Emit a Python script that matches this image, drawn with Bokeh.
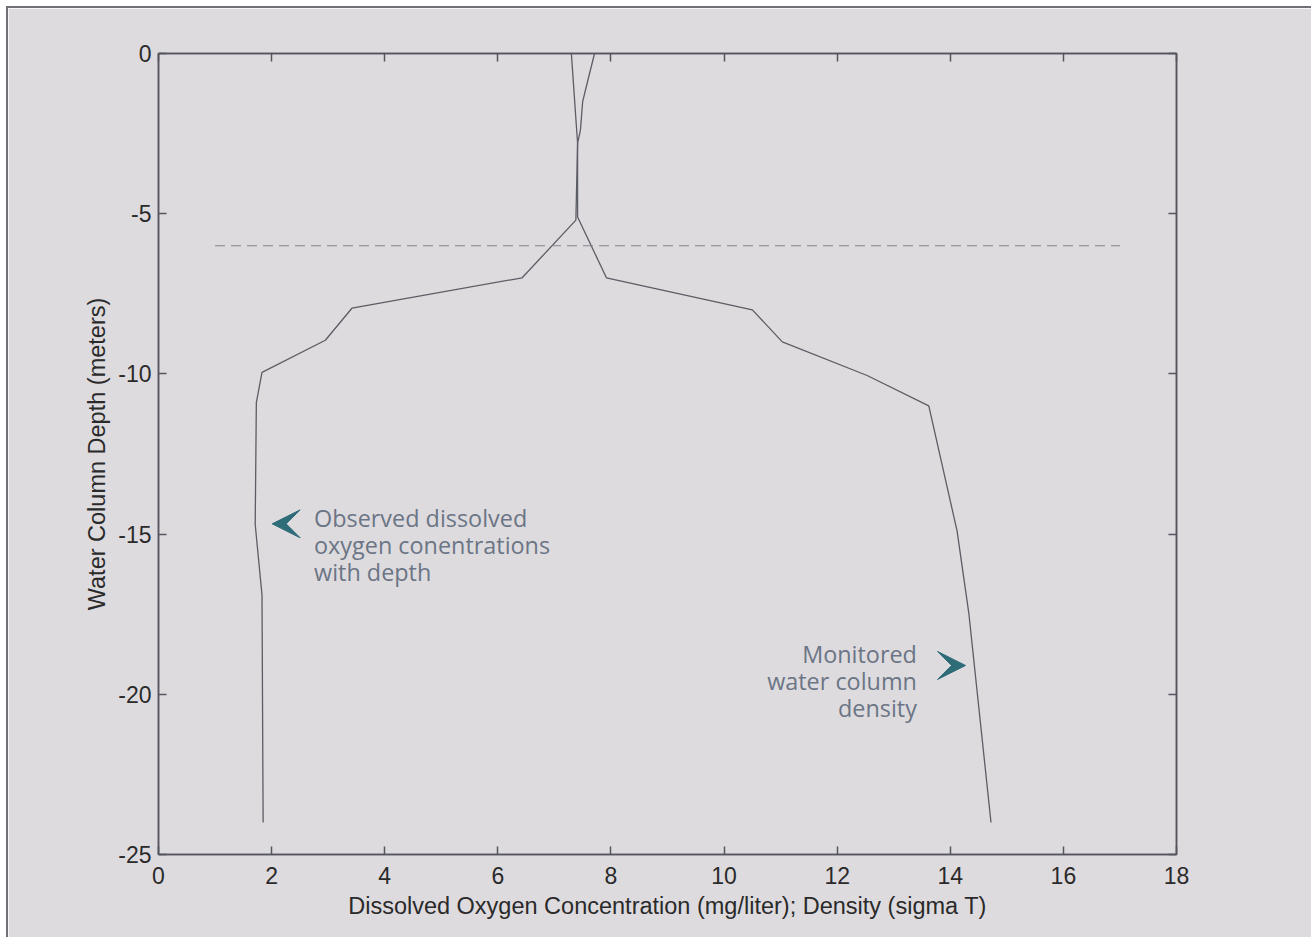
from bokeh.plotting import figure
from bokeh.models import LinearAxis, FixedTicker, Arrow, VeeHead, Range1d, CustomJSTickFormatter
from bokeh.core.properties import value
from bokeh.embed import file_html
from bokeh.resources import INLINE

# ---- data ----
do_conc = [7.71, 7.59, 7.50, 7.46, 7.41, 7.38, 6.43, 3.42, 2.95, 1.83, 1.73, 1.71, 1.83, 1.85]
do_depth = [0, -0.85, -1.5, -2.4, -2.8, -5.2, -7.0, -7.95, -8.95, -9.95, -10.9, -14.7, -16.9, -24.0]

dens_val = [7.30, 7.41, 7.41, 7.92, 10.50, 11.03, 12.53, 13.62, 14.12, 14.33, 14.72]
dens_depth = [0, -2.8, -5.1, -7.0, -8.0, -9.0, -10.05, -11.0, -14.9, -17.5, -24.0]

ref_x = [1.0, 17.0]
ref_depth = [-6.0, -6.0]

x_ticks = [0, 2, 4, 6, 8, 10, 12, 14, 16, 18]
y_ticks = [-25, -20, -15, -10, -5, 0]

left_note = ["Observed dissolved", "oxygen conentrations", "with depth"]
left_note_x = [2.75, 2.75, 2.75]
left_note_y = [-14.51, -15.34, -16.17]

right_note = ["Monitored", "water column", "density"]
right_note_x = [13.41, 13.41, 13.41]
right_note_y = [-18.74, -19.58, -20.42]

arrow_tip_x = [2.01, 14.27]
arrow_tip_y = [-14.68, -19.10]
arrow_dir = [-1, 1]

BG = "#dedbdf"
AX = "#55555d"
LINE = "#5c5c64"
NOTE = "#6b7585"
TEAL = "#2e6c78"
FONT = "Liberation Sans"

p = figure(width=1305, height=931, output_backend="svg", toolbar_location=None,
           x_range=Range1d(0, 18), y_range=Range1d(-25, 0),
           min_border_left=150, min_border_right=137, min_border_top=45, min_border_bottom=85)
p.background_fill_color = BG
p.border_fill_color = BG
p.outline_line_color = AX
p.outline_line_width = 1.5
p.xgrid.visible = False
p.ygrid.visible = False
p.styles = {"border-left": "2px solid #707076", "border-top": "2px solid #707076",
            "margin-left": "6px", "margin-top": "6px"}

def style_axis(ax, ticks, show_labels=True):
    ax.ticker = FixedTicker(ticks=ticks)
    ax.major_tick_in = 8
    ax.major_tick_out = 0
    ax.minor_tick_line_color = None
    ax.major_tick_line_color = AX
    ax.major_tick_line_width = 1.5
    ax.axis_line_color = AX
    ax.axis_line_width = 1.5
    ax.major_label_text_font = FONT
    ax.major_label_text_color = "#2a2a2a"
    ax.major_label_text_font_size = "23px"
    if show_labels:
        ax.major_label_overrides = {t: str(t) for t in ticks}
    else:
        ax.formatter = CustomJSTickFormatter(code="return ''")
        ax.major_label_standoff = 0
    ax.axis_label_text_font = FONT
    ax.axis_label_text_font_size = "23.5px"
    ax.axis_label_text_font_style = "normal"
    ax.axis_label_text_color = "#2a2a2a"

xa = p.xaxis[0]
style_axis(xa, x_ticks)
xa.major_label_standoff = 12
xa.axis_label = "Dissolved Oxygen Concentration (mg/liter); Density (sigma T)"
xa.axis_label_standoff = 6

ya = p.yaxis[0]
style_axis(ya, y_ticks)
ya.major_label_standoff = 7
ya.axis_label = "Water Column Depth (meters)"
ya.axis_label_standoff = 5

top = LinearAxis()
style_axis(top, x_ticks, show_labels=False)
p.add_layout(top, "above")
right = LinearAxis()
style_axis(right, y_ticks, show_labels=False)
p.add_layout(right, "right")

p.line(do_conc, do_depth, line_color=LINE, line_width=1.3)
p.line(dens_val, dens_depth, line_color=LINE, line_width=1.3)
p.line(ref_x, ref_depth, line_color="#85858c", line_width=1.2, line_dash="10 6")

p.text(x=left_note_x, y=left_note_y, text=left_note, text_font=value("Open Sans"),
       text_font_size="23.4px", text_color=NOTE, text_align="left", text_baseline="alphabetic")
p.text(x=right_note_x, y=right_note_y, text=right_note, text_font=value("Open Sans"),
       text_font_size="23.4px", text_color=NOTE, text_align="right", text_baseline="alphabetic")

for tx, ty, d in zip(arrow_tip_x, arrow_tip_y, arrow_dir):
    p.add_layout(Arrow(end=VeeHead(size=28, fill_color=TEAL, line_color=TEAL, line_width=1),
                       x_start=tx - d * 0.5, y_start=ty, x_end=tx, y_end=ty,
                       line_alpha=0))

open("out.html", "w").write(file_html(p, INLINE))
